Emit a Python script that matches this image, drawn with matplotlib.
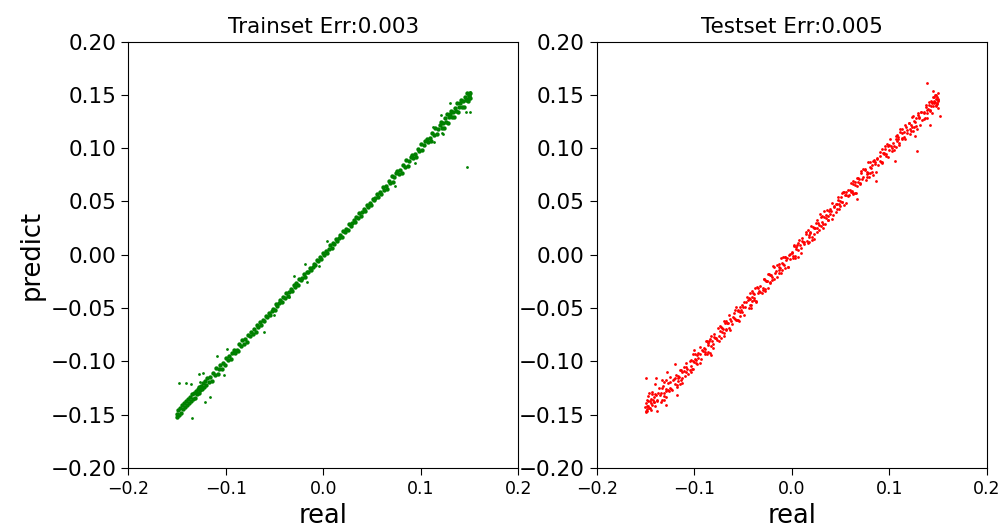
import matplotlib
matplotlib.use("Agg")
import matplotlib.pyplot as plt
import numpy as np

# ---- train set (green) ----
train_real = [
    -0.150, -0.150, -0.149, -0.148, -0.147, -0.146, -0.145, -0.144, -0.143, -0.142,
    -0.141, -0.140, -0.139, -0.138, -0.137, -0.136, -0.135, -0.134, -0.133, -0.132,
    -0.131, -0.130, -0.129, -0.128, -0.127, -0.126, -0.125, -0.124, -0.123, -0.122,
    -0.121, -0.120,
    -0.119, -0.1175, -0.116, -0.1145, -0.113, -0.1115, -0.110, -0.1085, -0.107, -0.1055,
    -0.104, -0.1025, -0.101, -0.0995, -0.098, -0.0965, -0.095, -0.0935, -0.092, -0.0905,
    -0.089, -0.0875, -0.086, -0.0845, -0.083, -0.0815, -0.080, -0.0785, -0.077, -0.0755,
    -0.074, -0.0725, -0.071, -0.0695, -0.068, -0.0665, -0.065, -0.0635, -0.062, -0.0605,
    -0.059, -0.0575, -0.056, -0.0545, -0.053, -0.0515, -0.050, -0.0485, -0.047, -0.0455,
    -0.044, -0.0425, -0.041, -0.0395, -0.038, -0.0365, -0.035, -0.0335, -0.032, -0.0305,
    -0.029, -0.0275, -0.026, -0.0245, -0.023, -0.0215, -0.020, -0.0185, -0.017, -0.0155,
    -0.014, -0.0125, -0.011, -0.0095, -0.008, -0.0065, -0.005, -0.0035, -0.002, -0.0005,
    0.001, 0.0025, 0.004, 0.0055, 0.007, 0.0085, 0.010, 0.0115, 0.013, 0.0145,
    0.016, 0.0175, 0.019, 0.0205, 0.022, 0.0235, 0.025, 0.0265, 0.028, 0.0295,
    0.031, 0.0325, 0.034, 0.0355, 0.037, 0.0385, 0.040, 0.0415, 0.043, 0.0445,
    0.046, 0.0475, 0.049, 0.0505, 0.052, 0.0535, 0.055, 0.0565, 0.058, 0.0595,
    0.061, 0.0625, 0.064, 0.0655, 0.067, 0.0685, 0.070, 0.0715, 0.073, 0.0745,
    0.076, 0.0775, 0.079, 0.0805, 0.082, 0.0835, 0.085, 0.0865, 0.088, 0.0895,
    0.091, 0.0925, 0.094, 0.0955, 0.097, 0.0985, 0.100, 0.1015, 0.103, 0.1045,
    0.106, 0.1075, 0.109, 0.1105, 0.112, 0.1135, 0.115, 0.1165, 0.118, 0.1195,
    0.121, 0.122, 0.123, 0.124, 0.125, 0.126, 0.127, 0.128, 0.129, 0.130,
    0.131, 0.132, 0.133, 0.134, 0.135, 0.136, 0.137, 0.138, 0.139, 0.140,
    0.141, 0.142, 0.143, 0.144, 0.145, 0.146, 0.147, 0.148, 0.149, 0.150,
    0.150, 0.149, 0.148,
]
train_pred = [
    -0.149, -0.152, -0.146, -0.150, -0.144, -0.148, -0.141, -0.145, -0.139, -0.143,
    -0.137, -0.141, -0.135, -0.139, -0.133, -0.137, -0.131, -0.135, -0.130, -0.134,
    -0.128, -0.131, -0.126, -0.130, -0.124, -0.127, -0.123, -0.126, -0.120, -0.124,
    -0.118, -0.122,
    -0.116, -0.1195, -0.115, -0.1185, -0.111, -0.1125, -0.106, -0.1115, -0.107, -0.1035,
    -0.107, -0.1015, -0.103, -0.0965, -0.099, -0.0945, -0.098, -0.0925, -0.089, -0.0925,
    -0.089, -0.0905, -0.084, -0.0855, -0.080, -0.0835, -0.079, -0.0815, -0.075, -0.0765,
    -0.072, -0.0745, -0.070, -0.0725, -0.066, -0.0675, -0.063, -0.0655, -0.061, -0.0625,
    -0.057, -0.0585, -0.055, -0.0565, -0.053, -0.0505, -0.052, -0.0465, -0.048, -0.0455,
    -0.042, -0.0445, -0.040, -0.0405, -0.036, -0.0385, -0.035, -0.0325, -0.034, -0.0285,
    -0.030, -0.0265, -0.028, -0.0225, -0.024, -0.0215, -0.018, -0.0205, -0.016, -0.0165,
    -0.012, -0.0145, -0.011, -0.0085, -0.010, -0.0045, -0.006, -0.0025, -0.004, 0.0015,
    0.000, 0.0035, 0.002, 0.0055, 0.009, 0.0065, 0.011, 0.0105, 0.015, 0.0125,
    0.016, 0.0185, 0.017, 0.0225, 0.021, 0.0245, 0.023, 0.0285, 0.027, 0.0295,
    0.033, 0.0305, 0.035, 0.0345, 0.039, 0.0365, 0.040, 0.0425, 0.041, 0.0465,
    0.045, 0.0485, 0.047, 0.0525, 0.051, 0.0535, 0.057, 0.0545, 0.059, 0.0575,
    0.064, 0.0605, 0.065, 0.0615, 0.069, 0.0675, 0.074, 0.0685, 0.073, 0.0765,
    0.079, 0.0755, 0.080, 0.0765, 0.084, 0.0825, 0.089, 0.0835, 0.088, 0.0915,
    0.094, 0.0905, 0.095, 0.0915, 0.099, 0.0975, 0.104, 0.0985, 0.103, 0.1065,
    0.109, 0.1055, 0.110, 0.1065, 0.114, 0.1125, 0.119, 0.1135, 0.118, 0.1215,
    0.125, 0.119, 0.124, 0.119, 0.128, 0.125, 0.132, 0.124, 0.129, 0.132,
    0.135, 0.129, 0.134, 0.129, 0.138, 0.135, 0.142, 0.134, 0.139, 0.142,
    0.145, 0.139, 0.144, 0.139, 0.148, 0.145, 0.152, 0.144, 0.149, 0.152,
    0.147, 0.150, 0.146,
]
# stray train points
train_out_real = [-0.148, -0.1405, -0.136, -0.128, -0.123, -0.126, -0.135, -0.121, -0.116,
                  -0.109, -0.0988, -0.102, -0.0612, -0.051, -0.0356, -0.0305, -0.019,
                  -0.0167, -0.0048, 0.004, 0.0738, 0.094, 0.113, 0.114, 0.1207, 0.122,
                  0.1227, 0.130, 0.138, 0.146, 0.150, 0.1474, 0.150]
train_out_pred = [-0.120, -0.120, -0.121, -0.112, -0.111, -0.119, -0.153, -0.138, -0.133,
                  -0.095, -0.0887, -0.1127, -0.072, -0.0565, -0.0393, -0.0199, -0.009,
                  -0.0252, -0.0105, 0.0125, 0.0645, 0.086, 0.120, 0.106, 0.131, 0.114,
                  0.1133, 0.142, 0.134, 0.134, 0.1337, 0.082, 0.153]

# ---- test set (red) ----
test_real = [
    -0.1497, -0.1484, -0.1479, -0.1465, -0.1451, -0.1442, -0.1429, -0.1417, -0.1406, -0.1391, -0.1378, -0.1362,
    -0.1502, -0.1495, -0.1488, -0.1473, -0.1460, -0.1447, -0.1435, -0.1413, -0.1386, -0.1399,
    -0.1342, -0.1339, -0.1323, -0.1311, -0.1306, -0.1288, -0.1284, -0.1262, -0.1253, -0.1246, -0.1223, -0.1207,
    -0.1199, -0.1181, -0.1170, -0.1167, -0.1148, -0.1139, -0.1122, -0.1120, -0.1101, -0.1087, -0.1081, -0.1065,
    -0.1047, -0.1034, -0.1029, -0.1015, -0.1001, -0.0992, -0.0979, -0.0967, -0.0956, -0.0941, -0.0928, -0.0912,
    -0.0892, -0.0889, -0.0873, -0.0861, -0.0856, -0.0838, -0.0834, -0.0812, -0.0803, -0.0796, -0.0773, -0.0757,
    -0.0749, -0.0731, -0.0720, -0.0717, -0.0698, -0.0689, -0.0672, -0.0670, -0.0651, -0.0637, -0.0631, -0.0615,
    -0.0597, -0.0584, -0.0579, -0.0565, -0.0551, -0.0542, -0.0529, -0.0517, -0.0506, -0.0491, -0.0478, -0.0462,
    -0.0442, -0.0439, -0.0423, -0.0411, -0.0406, -0.0388, -0.0384, -0.0362, -0.0353, -0.0346, -0.0323, -0.0307,
    -0.0299, -0.0281, -0.0270, -0.0267, -0.0248, -0.0239, -0.0222, -0.0220, -0.0201, -0.0187, -0.0181, -0.0165,
    -0.0147, -0.0134, -0.0129, -0.0115, -0.0101, -0.0092, -0.0079, -0.0067, -0.0056, -0.0041, -0.0028, -0.0012,
    0.0008, 0.0011, 0.0027, 0.0039, 0.0044, 0.0062, 0.0066, 0.0088, 0.0097, 0.0104, 0.0127, 0.0143,
    0.0151, 0.0169, 0.0180, 0.0183, 0.0202, 0.0211, 0.0228, 0.0230, 0.0249, 0.0263, 0.0269, 0.0285,
    0.0303, 0.0316, 0.0321, 0.0335, 0.0349, 0.0358, 0.0371, 0.0383, 0.0394, 0.0409, 0.0422, 0.0438,
    0.0458, 0.0461, 0.0477, 0.0489, 0.0494, 0.0512, 0.0516, 0.0538, 0.0547, 0.0554, 0.0577, 0.0593,
    0.0601, 0.0619, 0.0630, 0.0633, 0.0652, 0.0661, 0.0678, 0.0680, 0.0699, 0.0713, 0.0719, 0.0735,
    0.0753, 0.0766, 0.0771, 0.0785, 0.0799, 0.0808, 0.0821, 0.0833, 0.0844, 0.0859, 0.0872, 0.0888,
    0.0908, 0.0911, 0.0927, 0.0939, 0.0944, 0.0962, 0.0966, 0.0988, 0.0997, 0.1004, 0.1027, 0.1043,
    0.1051, 0.1069, 0.1080, 0.1083, 0.1102, 0.1111, 0.1128, 0.1130, 0.1149, 0.1163, 0.1169, 0.1185,
    0.1203, 0.1216, 0.1221, 0.1235, 0.1249, 0.1258, 0.1271, 0.1283, 0.1294, 0.1309, 0.1322, 0.1338,
    0.1358, 0.1361, 0.1377, 0.1389, 0.1394, 0.1412, 0.1416, 0.1438, 0.1447, 0.1454, 0.1477, 0.1493,
    0.1500, 0.1496, 0.1485, 0.1470, 0.1463, 0.1502, 0.1440, 0.1425,
]
test_pred = [
    -0.1467, -0.1364, -0.1419, -0.1295, -0.1441, -0.1352, -0.1289, -0.1377, -0.1216, -0.1311, -0.1358, -0.1252,
    -0.1432, -0.1475, -0.1448, -0.1373, -0.1440, -0.1387, -0.1405, -0.1333, -0.1468, -0.1420,
    -0.1292, -0.1379, -0.1233, -0.1301, -0.1366, -0.1258, -0.1174, -0.1282, -0.1193, -0.1246, -0.1273, -0.1167,
    -0.1159, -0.1241, -0.1160, -0.1187, -0.1078, -0.1179, -0.1102, -0.1200, -0.1051, -0.1097, -0.1051, -0.1115,
    -0.1077, -0.0984, -0.1099, -0.0995, -0.1001, -0.0932, -0.1019, -0.0937, -0.0966, -0.0861, -0.0978, -0.0902,
    -0.0882, -0.0909, -0.0813, -0.0911, -0.0826, -0.0918, -0.0794, -0.0812, -0.0833, -0.0746, -0.0783, -0.0687,
    -0.0809, -0.0711, -0.0680, -0.0727, -0.0738, -0.0619, -0.0692, -0.0620, -0.0641, -0.0707, -0.0601, -0.0645,
    -0.0587, -0.0604, -0.0519, -0.0615, -0.0521, -0.0622, -0.0489, -0.0517, -0.0536, -0.0441, -0.0488, -0.0392,
    -0.0402, -0.0499, -0.0413, -0.0431, -0.0336, -0.0428, -0.0364, -0.0442, -0.0303, -0.0356, -0.0293, -0.0357,
    -0.0329, -0.0231, -0.0340, -0.0247, -0.0248, -0.0179, -0.0262, -0.0190, -0.0211, -0.0107, -0.0231, -0.0155,
    -0.0207, -0.0114, -0.0089, -0.0125, -0.0141, -0.0022, -0.0099, -0.0017, -0.0046, -0.0111, 0.0002, -0.0042,
    0.0018, -0.0009, 0.0087, -0.0011, 0.0074, -0.0018, 0.0106, 0.0088, 0.0067, 0.0154, 0.0117, 0.0213,
    0.0191, 0.0109, 0.0190, 0.0163, 0.0272, 0.0171, 0.0248, 0.0150, 0.0299, 0.0253, 0.0299, 0.0235,
    0.0273, 0.0366, 0.0251, 0.0355, 0.0349, 0.0418, 0.0331, 0.0413, 0.0384, 0.0489, 0.0372, 0.0448,
    0.0398, 0.0481, 0.0517, 0.0479, 0.0454, 0.0582, 0.0496, 0.0588, 0.0557, 0.0484, 0.0607, 0.0563,
    0.0611, 0.0599, 0.0690, 0.0583, 0.0682, 0.0581, 0.0718, 0.0680, 0.0669, 0.0763, 0.0709, 0.0805,
    0.0793, 0.0706, 0.0781, 0.0765, 0.0869, 0.0768, 0.0841, 0.0753, 0.0894, 0.0849, 0.0902, 0.0838,
    0.0878, 0.0961, 0.0857, 0.0959, 0.0944, 0.1022, 0.0926, 0.1018, 0.0987, 0.1084, 0.0977, 0.1053,
    0.0981, 0.1089, 0.1120, 0.1063, 0.1052, 0.1181, 0.1098, 0.1180, 0.1149, 0.1083, 0.1199, 0.1145,
    0.1233, 0.1136, 0.1221, 0.1195, 0.1299, 0.1198, 0.1281, 0.1183, 0.1334, 0.1279, 0.1342, 0.1268,
    0.1338, 0.1271, 0.1387, 0.1329, 0.1364, 0.1432, 0.1346, 0.1438, 0.1397, 0.1484, 0.1397, 0.1483,
    0.1450, 0.1410, 0.1465, 0.1435, 0.1478, 0.1375, 0.1420, 0.1395,
]
# second pass over the test cloud
test_real_b = [
    -0.1494, -0.1487, -0.1475, -0.1469, -0.1455, -0.1446, -0.1432, -0.1425, -0.1409, -0.1398, -0.1384, -0.1369,
    -0.1346, -0.1332, -0.1327, -0.1313, -0.1309, -0.1294, -0.1286, -0.1273, -0.1264, -0.1244, -0.1239, -0.1221,
    -0.1194, -0.1187, -0.1175, -0.1169, -0.1155, -0.1146, -0.1132, -0.1125, -0.1109, -0.1098, -0.1084, -0.1069,
    -0.1046, -0.1032, -0.1027, -0.1013, -0.1009, -0.0994, -0.0986, -0.0973, -0.0964, -0.0944, -0.0939, -0.0921,
    -0.0894, -0.0887, -0.0875, -0.0869, -0.0855, -0.0846, -0.0832, -0.0825, -0.0809, -0.0798, -0.0784, -0.0769,
    -0.0746, -0.0732, -0.0727, -0.0713, -0.0709, -0.0694, -0.0686, -0.0673, -0.0664, -0.0644, -0.0639, -0.0621,
    -0.0594, -0.0587, -0.0575, -0.0569, -0.0555, -0.0546, -0.0532, -0.0525, -0.0509, -0.0498, -0.0484, -0.0469,
    -0.0446, -0.0432, -0.0427, -0.0413, -0.0409, -0.0394, -0.0386, -0.0373, -0.0364, -0.0344, -0.0339, -0.0321,
    -0.0294, -0.0287, -0.0275, -0.0269, -0.0255, -0.0246, -0.0232, -0.0225, -0.0209, -0.0198, -0.0184, -0.0169,
    -0.0146, -0.0132, -0.0127, -0.0113, -0.0109, -0.0094, -0.0086, -0.0073, -0.0064, -0.0044, -0.0039, -0.0021,
    0.0006, 0.0013, 0.0025, 0.0031, 0.0045, 0.0054, 0.0068, 0.0075, 0.0091, 0.0102, 0.0116, 0.0131,
    0.0154, 0.0168, 0.0173, 0.0187, 0.0191, 0.0206, 0.0214, 0.0227, 0.0236, 0.0256, 0.0261, 0.0279,
    0.0306, 0.0313, 0.0325, 0.0331, 0.0345, 0.0354, 0.0368, 0.0375, 0.0391, 0.0402, 0.0416, 0.0431,
    0.0454, 0.0468, 0.0473, 0.0487, 0.0491, 0.0506, 0.0514, 0.0527, 0.0536, 0.0556, 0.0561, 0.0579,
    0.0606, 0.0613, 0.0625, 0.0631, 0.0645, 0.0654, 0.0668, 0.0675, 0.0691, 0.0702, 0.0716, 0.0731,
    0.0754, 0.0768, 0.0773, 0.0787, 0.0791, 0.0806, 0.0814, 0.0827, 0.0836, 0.0856, 0.0861, 0.0879,
    0.0906, 0.0913, 0.0925, 0.0931, 0.0945, 0.0954, 0.0968, 0.0975, 0.0991, 0.1002, 0.1016, 0.1031,
    0.1054, 0.1068, 0.1073, 0.1087, 0.1091, 0.1106, 0.1114, 0.1127, 0.1136, 0.1156, 0.1161, 0.1179,
    0.1206, 0.1213, 0.1225, 0.1231, 0.1245, 0.1254, 0.1268, 0.1275, 0.1291, 0.1302, 0.1316, 0.1331,
    0.1354, 0.1368, 0.1373, 0.1387, 0.1391, 0.1406, 0.1414, 0.1427, 0.1436, 0.1456, 0.1461, 0.1479,
    0.1490, 0.1497, 0.1484, 0.1503, 0.1468,
]
test_pred_b = [
    -0.1394, -0.1467, -0.1325, -0.1419, -0.1375, -0.1456, -0.1302, -0.1365, -0.1379, -0.1308, -0.1374, -0.1299,
    -0.1316, -0.1362, -0.1247, -0.1323, -0.1189, -0.1274, -0.1336, -0.1203, -0.1264, -0.1144, -0.1259, -0.1171,
    -0.1214, -0.1127, -0.1225, -0.1139, -0.1145, -0.1216, -0.1082, -0.1155, -0.1089, -0.1138, -0.1014, -0.1069,
    -0.0996, -0.1042, -0.1067, -0.0933, -0.1069, -0.0974, -0.0986, -0.1023, -0.0924, -0.0934, -0.1019, -0.0891,
    -0.0874, -0.0927, -0.0805, -0.0929, -0.0845, -0.0806, -0.0852, -0.0765, -0.0879, -0.0768, -0.0784, -0.0799,
    -0.0766, -0.0672, -0.0777, -0.0683, -0.0699, -0.0764, -0.0636, -0.0703, -0.0644, -0.0684, -0.0569, -0.0621,
    -0.0544, -0.0597, -0.0615, -0.0489, -0.0615, -0.0526, -0.0532, -0.0575, -0.0469, -0.0488, -0.0564, -0.0439,
    -0.0426, -0.0472, -0.0357, -0.0473, -0.0399, -0.0354, -0.0406, -0.0313, -0.0434, -0.0314, -0.0339, -0.0351,
    -0.0314, -0.0227, -0.0325, -0.0239, -0.0245, -0.0316, -0.0182, -0.0255, -0.0189, -0.0238, -0.0114, -0.0169,
    -0.0096, -0.0142, -0.0167, -0.0033, -0.0169, -0.0074, -0.0086, -0.0123, -0.0024, -0.0034, -0.0119, 0.0009,
    0.0026, -0.0027, 0.0095, -0.0029, 0.0055, 0.0094, 0.0048, 0.0135, 0.0021, 0.0132, 0.0116, 0.0101,
    0.0134, 0.0228, 0.0123, 0.0217, 0.0201, 0.0136, 0.0264, 0.0197, 0.0256, 0.0216, 0.0331, 0.0279,
    0.0356, 0.0303, 0.0285, 0.0411, 0.0285, 0.0374, 0.0368, 0.0325, 0.0431, 0.0412, 0.0336, 0.0461,
    0.0474, 0.0428, 0.0543, 0.0427, 0.0501, 0.0546, 0.0494, 0.0587, 0.0466, 0.0586, 0.0561, 0.0549,
    0.0586, 0.0673, 0.0575, 0.0661, 0.0655, 0.0584, 0.0718, 0.0645, 0.0711, 0.0662, 0.0786, 0.0731,
    0.0804, 0.0758, 0.0733, 0.0867, 0.0731, 0.0826, 0.0814, 0.0777, 0.0876, 0.0866, 0.0781, 0.0909,
    0.0926, 0.0873, 0.0995, 0.0871, 0.0955, 0.0994, 0.0948, 0.1035, 0.0921, 0.1032, 0.1016, 0.1001,
    0.1024, 0.1118, 0.1013, 0.1107, 0.1091, 0.1026, 0.1154, 0.1087, 0.1146, 0.1106, 0.1221, 0.1169,
    0.1236, 0.1183, 0.1165, 0.1291, 0.1165, 0.1254, 0.1248, 0.1205, 0.1311, 0.1292, 0.1216, 0.1341,
    0.1334, 0.1288, 0.1403, 0.1287, 0.1361, 0.1406, 0.1354, 0.1447, 0.1326, 0.1446, 0.1421, 0.1409,
    0.1425, 0.1462, 0.1500, 0.1440, 0.1495,
]
# stray test points
test_out_real = [-0.1326, -0.128, -0.1196, -0.129, -0.1177, -0.0997, -0.0826, -0.0415, 0.0295,
                 0.0672, 0.0868, 0.106, 0.129, 0.1385, 0.1521, 0.142, 0.1267, 0.145, 0.150,
                 -0.149, -0.139]
test_out_pred = [-0.117, -0.1097, -0.102, -0.141, -0.1315, -0.0893, -0.094, -0.0502, 0.0383,
                 0.052, 0.0692, 0.088, 0.0977, 0.1615, 0.130, 0.1218, 0.1114, 0.1536, 0.1515,
                 -0.116, -0.116]

train_err = 0.003
test_err = 0.005

fig = plt.figure(figsize=(10.04, 5.3), dpi=100)
ax1 = fig.add_axes([0.1278, 0.117, 0.3884, 0.8045])
ax2 = fig.add_axes([0.5943, 0.117, 0.3884, 0.8045])

# train: dense band drawn with fatter dots, strays with fine ones
ax1.scatter(train_real, train_pred, s=10, c='g', linewidths=0)
ax1.scatter(train_out_real, train_out_pred, s=4, c='g', linewidths=0)

ax2.scatter(test_real + test_real_b + test_out_real,
            test_pred + test_pred_b + test_out_pred, s=4, c='r', linewidths=0)

for ax, title in [(ax1, 'Trainset Err:%.3f' % train_err), (ax2, 'Testset Err:%.3f' % test_err)]:
    ax.set_xlim(-0.2, 0.2)
    ax.set_ylim(-0.2, 0.2)
    ax.set_xticks(np.arange(-0.2, 0.21, 0.1))
    ax.set_yticks(np.arange(-0.2, 0.21, 0.05))
    ax.tick_params(axis='y', labelsize=15.5, length=5)
    ax.tick_params(axis='x', labelsize=12.5, length=5)
    ax.set_title(title, fontsize=15.5)
    ax.set_xlabel('real', fontsize=18.5)

ax1.set_ylabel('predict', fontsize=18.5)

fig.savefig('out.png', dpi=100)
